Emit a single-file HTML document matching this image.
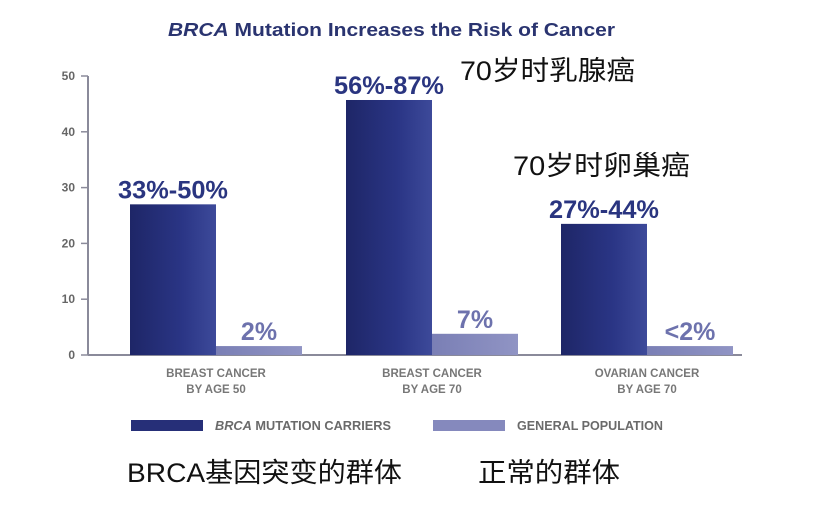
<!DOCTYPE html>
<html><head><meta charset="utf-8"><style>
html,body{margin:0;padding:0;background:#fff;}
svg{display:block;}
.cn{font-family:"Liberation Sans","Noto Sans CJK SC",sans-serif;}
</style></head><body>
<svg id="chart" width="828" height="525" viewBox="0 0 828 525" xmlns="http://www.w3.org/2000/svg">
<defs>
<linearGradient id="gDark" x1="0" x2="1" y1="0" y2="0"><stop offset="0" stop-color="#1e2667"/><stop offset="0.6" stop-color="#2a3585"/><stop offset="1" stop-color="#3d4a9a"/></linearGradient>
<linearGradient id="gLight" x1="0" x2="1" y1="0" y2="0"><stop offset="0" stop-color="#7a7fb5"/><stop offset="1" stop-color="#9094c4"/></linearGradient>
</defs>
<text x="168" y="36" font-family="Liberation Sans, sans-serif" font-weight="bold" font-size="18" fill="#2a3470" textLength="447" lengthAdjust="spacingAndGlyphs"><tspan font-style="italic">BRCA</tspan> Mutation Increases the Risk of Cancer</text>
<g id="axes"></g>
<g id="bars"></g>
<g id="labels"></g>
<text class="cn" x="460" y="80" font-size="27" fill="#111" textLength="175" lengthAdjust="spacingAndGlyphs">70岁时乳腺癌</text>
<text class="cn" x="513" y="175" font-size="27" fill="#111" textLength="177" lengthAdjust="spacingAndGlyphs">70岁时卵巢癌</text>
<rect x="131" y="420" width="72" height="11" fill="#262f78"/>
<text x="215" y="430" font-family="Liberation Sans, sans-serif" font-weight="bold" font-size="13" fill="#6a6a6a" textLength="176" lengthAdjust="spacingAndGlyphs"><tspan font-style="italic">BRCA</tspan> MUTATION CARRIERS</text>
<rect x="433" y="420" width="72" height="11" fill="#8589bd"/>
<text x="517" y="430" font-family="Liberation Sans, sans-serif" font-weight="bold" font-size="13" fill="#6a6a6a" textLength="146" lengthAdjust="spacingAndGlyphs">GENERAL POPULATION</text>
<text class="cn" x="127" y="482" font-size="27" fill="#111" textLength="275" lengthAdjust="spacingAndGlyphs">BRCA基因突变的群体</text>
<text class="cn" x="478" y="482" font-size="27" fill="#111" textLength="142" lengthAdjust="spacingAndGlyphs">正常的群体</text>
</svg>
<script>
const categories1 = ["BREAST CANCER", "BREAST CANCER", "OVARIAN CANCER"];
const categories2 = ["BY AGE 50", "BY AGE 70", "BY AGE 70"];
const carriers = [27, 45.7, 23.5];
const general = [1.6, 3.8, 1.6];
const carrierLabels = ["33%-50%", "56%-87%", "27%-44%"];
const generalLabels = ["2%", "7%", "<2%"];
const yTicks = [0, 10, 20, 30, 40, 50];

const NS = "http://www.w3.org/2000/svg";
const y0 = 355, yTop = 76, yMax = 50;
const yScale = v => y0 - (v / yMax) * (y0 - yTop);
const groupX = [130, 346, 561];
const barW = 86;
function mk(tag, attrs, parent) {
  const el = document.createElementNS(NS, tag);
  for (const k in attrs) el.setAttribute(k, attrs[k]);
  parent.appendChild(el);
  return el;
}
const axes = document.getElementById('axes');
const bars = document.getElementById('bars');
const labels = document.getElementById('labels');
let a = mk('line', {x1: 88, y1: yScale(50), x2: 88, y2: y0, stroke: '#8a8a9a', 'stroke-width': 2}, axes);


a = mk('line', {x1: 88, y1: y0, x2: 742, y2: y0, stroke: '#8a8a9a', 'stroke-width': 2}, axes);


yTicks.forEach(t => {
  const y = yScale(t);
  const tk = mk('line', {x1: 81, y1: y, x2: 88, y2: y, stroke: '#8a8a9a', 'stroke-width': 1.5}, axes);
  
  
  const tl = mk('text', {x: 75, y: y + 4, 'text-anchor': 'end', 'font-family': 'Liberation Sans, sans-serif', 'font-weight': 'bold', 'font-size': 12, fill: '#666'}, axes);
  tl.textContent = t;
  
  
});
categories1.forEach((c, i) => {
  const x = groupX[i];
  const yc = yScale(carriers[i]);
  const b1 = mk('rect', {x: x, y: yc, width: barW, height: y0 - yc, fill: 'url(#gDark)'}, bars);
  
  
  const yg = yScale(general[i]);
  const b2 = mk('rect', {x: x + barW, y: yg, width: barW, height: y0 - yg, fill: 'url(#gLight)'}, bars);
  
  
  const l1 = mk('text', {x: x + barW / 2, y: yc - 6, 'text-anchor': 'middle', 'font-family': 'Liberation Sans, sans-serif', 'font-weight': 'bold', 'font-size': 25, fill: '#2a3580', textLength: 110, lengthAdjust: 'spacingAndGlyphs'}, labels);
  l1.textContent = carrierLabels[i];
  
  
  const l2 = mk('text', {x: x + barW * 1.5, y: yg - 6, 'text-anchor': 'middle', 'font-family': 'Liberation Sans, sans-serif', 'font-weight': 'bold', 'font-size': 25, fill: '#6d72ad'}, labels);
  l2.textContent = generalLabels[i];
  
  
  const c1 = mk('text', {x: x + barW, y: 377, 'text-anchor': 'middle', 'font-family': 'Liberation Sans, sans-serif', 'font-weight': 'bold', 'font-size': 11.5, fill: '#777'}, labels);
  c1.textContent = c;
  
  
  const c2 = mk('text', {x: x + barW, y: 393, 'text-anchor': 'middle', 'font-family': 'Liberation Sans, sans-serif', 'font-weight': 'bold', 'font-size': 11.5, fill: '#777'}, labels);
  c2.textContent = categories2[i];
  
  
});
</script>
</body></html>
